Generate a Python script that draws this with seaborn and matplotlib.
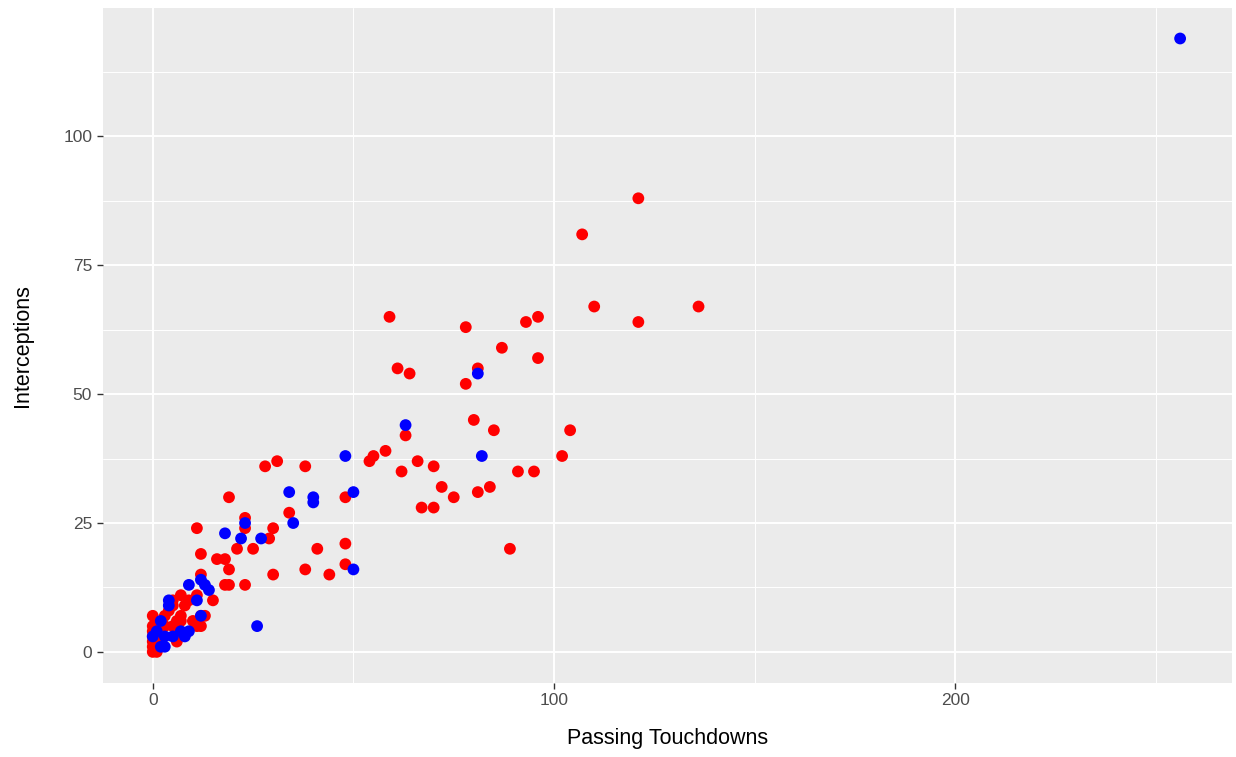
import matplotlib.pyplot as plt
import pandas as pd
import seaborn as sns
from matplotlib.ticker import FixedLocator, MultipleLocator

# red group
red_td = [121, 107, 110, 136, 121, 93, 96, 59, 78, 87, 96, 61, 81, 64, 78,
          80, 85, 104, 63, 58, 55, 54, 66, 70, 38, 28, 31, 102, 91, 95, 62,
          72, 84, 75, 81, 67, 70, 19, 48, 89, 48, 41, 48, 38, 44, 30, 34, 29,
          30, 23, 23, 21, 25, 11, 12, 16, 18, 19, 18, 19, 23, 12, 15, 13,
          7, 5, 9, 11, 5, 3, 7, 7, 12, 0, 11, 12, 5, 6, 6, 0, 0, 0, 0, 2, 1,
          4, 8, 10, 3, 1, 0, 0]
red_int = [88, 81, 67, 67, 64, 64, 65, 65, 63, 59, 57, 55, 55, 54, 52,
           45, 43, 43, 42, 39, 38, 37, 37, 36, 36, 36, 37, 38, 35, 35, 35,
           32, 32, 30, 31, 28, 28, 30, 30, 20, 21, 20, 17, 16, 15, 15, 27, 22,
           24, 26, 24, 20, 20, 24, 19, 18, 18, 16, 13, 13, 13, 15, 10, 7,
           11, 10, 10, 11, 9, 7, 7, 6, 7, 7, 5, 5, 5, 6, 2, 4, 3, 1, 0, 2, 0,
           8, 9, 6, 5, 3, 5, 2]

# blue group
blue_td = [256, 81, 63, 82, 48, 34, 50, 40, 40, 35, 23, 22, 27, 18, 50, 26,
           9, 12, 13, 14, 4, 11, 12, 2, 7, 8, 3, 5, 0, 2, 3, 4, 1, 9]
blue_int = [119, 54, 44, 38, 38, 31, 31, 30, 29, 25, 25, 22, 22, 23, 16, 5,
            13, 14, 13, 12, 10, 10, 7, 6, 4, 3, 3, 3, 3, 1, 1, 9, 4, 4]

df = pd.DataFrame({
    "td": red_td + blue_td,
    "ints": red_int + blue_int,
    "group": ["red"] * len(red_td) + ["blue"] * len(blue_td),
})

sns.set_theme(style="darkgrid")
plt.rcParams.update({
    "axes.facecolor": "#EBEBEB",
    "grid.color": "white",
    "font.family": ["Liberation Sans", "DejaVu Sans"],
})

fig, ax = plt.subplots(figsize=(12.36, 7.57), dpi=100)
fig.subplots_adjust(left=0.083, right=0.997, top=0.99, bottom=0.098)

sns.scatterplot(data=df, x="td", y="ints", hue="group",
                palette={"red": "#FF0000", "blue": "#0000FF"},
                s=72, linewidth=0, legend=False, ax=ax)

ax.set_xlim(-12.5, 269)
ax.set_ylim(-6, 125)
ax.xaxis.set_major_locator(MultipleLocator(100))
ax.xaxis.set_minor_locator(MultipleLocator(50))
ax.yaxis.set_major_locator(FixedLocator([0, 25, 50, 75, 100]))
ax.yaxis.set_minor_locator(FixedLocator([12.5, 37.5, 62.5, 87.5, 112.5]))
ax.grid(which="major", color="white", linewidth=1.4)
ax.grid(which="minor", color="white", linewidth=0.7)
ax.set_axisbelow(True)
for s in ax.spines.values():
    s.set_visible(False)
ax.tick_params(which="major", length=4, width=1, color="#333333",
               labelsize=12.5, labelcolor="#4D4D4D", left=True, bottom=True)
ax.tick_params(which="minor", length=0)
ax.set_xlabel("Passing Touchdowns", fontsize=15.5, color="black", labelpad=14)
ax.set_ylabel("Interceptions", fontsize=15.5, color="black", labelpad=22)

fig.savefig("out.png", dpi=100)
